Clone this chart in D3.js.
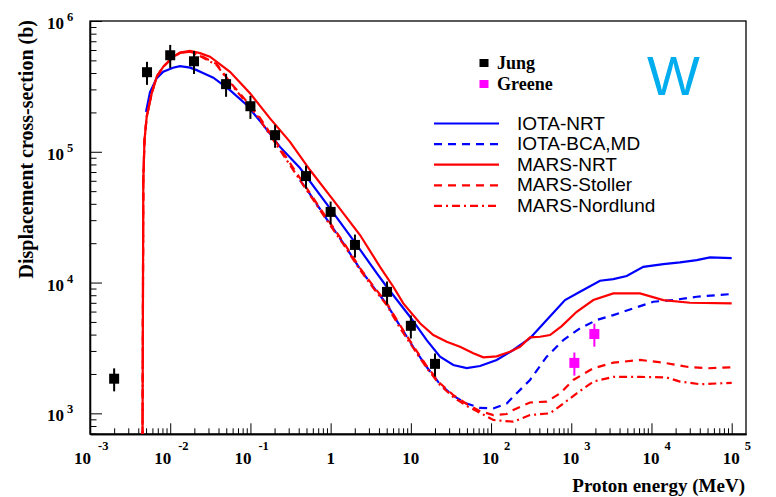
<!DOCTYPE html>
<html>
<head>
<meta charset="utf-8">
<script src="https://cdn.jsdelivr.net/npm/d3@7"></script>
<style>
  html, body { margin: 0; padding: 0; background: #fff; }
  svg { display: block; }
</style>
</head>
<body>
<svg id="chart" width="776" height="497"></svg>
<script>
// ---------------- data ----------------
const jungE      = [0.002, 0.00514, 0.01, 0.0198, 0.0497, 0.1, 0.203, 0.493, 1, 2.01, 5.05, 10, 20];
const jungSigma  = [1840, 4.06e5, 5.47e5, 4.92e5, 3.29e5, 2.23e5, 1.34e5, 6.52e4, 3.47e4, 1.94e4, 8490, 4670, 2390];
const greeneE     = [1093, 1940];
const greeneSigma = [2430, 4040];
const relError = 0.2;

const iotaNrtE = [4.99e-3, 5.60e-3, 6.79e-3, 8.20e-3, 1.083e-2, 1.325e-2, 1.765e-2, 2.14e-2, 2.56e-2, 3.45e-2,
  5.56e-2, 8.99e-2, 0.1447, 0.2338, 0.415, 0.982, 2.113, 3.753, 5.002, 9.761, 15.77, 23.10, 33.83, 49.70, 72.81,
  117.6, 189.4, 305.9, 494.1, 835.6, 1285, 2282, 3344, 4912, 7911, 14050, 22690, 36630, 53660, 1e5];
const iotaNrtSigma = [2.02e5, 2.86e5, 3.66e5, 4.09e5, 4.39e5, 4.52e5, 4.40e5, 4.21e5, 4.00e5, 3.69e5,
  2.96e5, 2.28e5, 1.60e5, 1.09e5, 7.51e4, 3.69e4, 1.94e4, 1.18e4, 9290, 5480, 3630, 2710, 2340, 2220, 2300,
  2560, 3050, 3750, 5170, 7350, 8510, 10320, 10630, 11210, 13200, 13850, 14270, 14860, 15590, 15400];

const iotaBcaE = [0.415, 0.5531, 0.8933, 1.439, 2.324, 3.404, 5.002, 7.325, 10.73, 15.77, 23.10, 33.83, 49.70,
  72.81, 106.7, 156.7, 189.4, 305.9, 494.1, 795.8, 1285, 2076, 3344, 5935, 10540, 18720, 36630, 1e5];
const iotaBcaSigma = [6.08e4, 4.75e4, 3.06e4, 2.00e4, 1.27e4, 9240, 6850, 4650, 3210, 2260, 1670, 1360, 1190,
  1100, 1090, 1190, 1340, 1800, 2710, 3630, 4470, 5170, 5640, 6350, 7130, 7350, 7790, 8170];

const marsNrtE = [4.51e-3, 4.62e-3, 4.78e-3, 5.09e-3, 5.88e-3, 6.79e-3, 8.20e-3, 1.093e-2, 1.325e-2, 1.765e-2,
  2.35e-2, 3.13e-2, 5.56e-2, 9.88e-2, 0.1754, 0.3115, 0.5531, 1.080, 2.324, 4.126, 6.043, 8.054, 13.01, 19.05,
  28.00, 41.02, 60.06, 80.09, 117.6, 172.3, 229.6, 305.9, 407.6, 543.1, 760, 1169, 1883, 3344, 7194, 14050, 30230, 1e5];
const marsNrtSigma = [500, 6.08e4, 1.23e5, 1.85e5, 2.80e5, 3.75e5, 4.47e5, 5.33e5, 5.75e5, 5.92e5,
  5.68e5, 5.33e5, 4.09e5, 2.80e5, 1.80e5, 1.19e5, 7.25e4, 4.27e4, 2.31e4, 1.32e4, 9290, 6930, 4880, 3970,
  3530, 3230, 2880, 2680, 2730, 2960, 3230, 3810, 3850, 3970, 4650, 5980, 7350, 8270, 8270, 7350, 7010, 6930];

const marsStollerE = [4.51e-3, 4.62e-3, 4.78e-3, 5.09e-3, 5.88e-3, 6.79e-3, 8.20e-3, 1.093e-2, 1.325e-2, 1.765e-2,
  2.35e-2, 3.80e-2, 5.56e-2, 0.1198, 0.2338, 0.3424, 0.5531, 0.8933, 1.439, 2.324, 3.404, 5.002, 7.325, 10.73,
  15.77, 23.10, 33.83, 49.70, 72.81, 106.7, 156.7, 189.4, 305.9, 494.1, 723.8, 1060, 1883, 3344, 7194, 14050,
  27500, 48820, 1e5];
const marsStollerSigma = [500, 6.08e4, 1.23e5, 1.85e5, 2.80e5, 3.75e5, 4.47e5, 5.33e5, 5.70e5, 5.83e5,
  5.49e5, 4.68e5, 3.41e5, 1.98e5, 1.07e5, 7.51e4, 4.83e4, 3.11e4, 2.04e4, 1.29e4, 9400, 6970, 4730, 3270,
  2300, 1700, 1380, 1180, 1040, 970, 988, 1060, 1210, 1230, 1420, 1800, 2210, 2440, 2560, 2440,
  2270, 2210, 2250];

const marsNordlundE = [4.51e-3, 4.62e-3, 4.78e-3, 5.09e-3, 5.88e-3, 6.79e-3, 8.20e-3, 1.093e-2, 1.325e-2, 1.765e-2,
  2.35e-2, 3.80e-2, 5.56e-2, 0.1198, 0.2338, 0.3424, 0.5531, 0.8933, 1.439, 2.324, 3.404, 5.002, 7.325, 10.73,
  15.77, 23.10, 33.83, 49.70, 72.81, 106.7, 189.4, 305.9, 543.1, 795.8, 1169, 1883, 3344, 7194, 15480, 22690,
  40270, 1e5];
const marsNordlundSigma = [500, 6.08e4, 1.23e5, 1.85e5, 2.80e5, 3.75e5, 4.47e5, 5.33e5, 5.70e5, 5.83e5,
  5.39e5, 4.60e5, 3.35e5, 1.91e5, 1.03e5, 7.25e4, 4.67e4, 3.00e4, 1.97e4, 1.25e4, 9080, 6730, 4490, 3160,
  2220, 1650, 1330, 1140, 1010, 889, 863, 970, 1000, 1190, 1420, 1750, 1900, 1900, 1880, 1750,
  1670, 1710];

const seriesNames = ["IOTA-NRT", "IOTA-BCA,MD", "MARS-NRT", "MARS-Stoller", "MARS-Nordlund"];
const markerNames = ["Jung", "Greene"];

const xMajorTicks = [1e-3, 1e-2, 1e-1, 1, 10, 1e2, 1e3, 1e4, 1e5];
const xTickBase   = ["10", "10", "10", "1", "10", "10", "10", "10", "10"];
const xTickExp    = ["-3", "-2", "-1", "", "", "2", "3", "4", "5"];
const yMajorTicks = [1e3, 1e4, 1e5, 1e6];
const yTickBase   = ["10", "10", "10", "10"];
const yTickExp    = ["3", "4", "5", "6"];

const xTitle = "Proton energy (MeV)";
const yTitle = "Displacement cross-section (b)";
const elementLabel = "W";

// ---------------- layout ----------------
const L = 90, R = 746, T = 21, B = 434;
const xDomain = [1e-3, 1.508e5];
const yDomain = [695, 1e6];

const svg = d3.select("#chart");
svg.append("rect").attr("width", 776).attr("height", 497).attr("fill", "#fff");

const x = d3.scaleLog().domain(xDomain).range([L, R]);
const y = d3.scaleLog().domain(yDomain).range([B, T]);

const serif = "'Liberation Serif','Times New Roman',Times,serif";
const sans  = "'Liberation Sans',Arial,Helvetica,sans-serif";

svg.append("clipPath").attr("id", "plotclip")
  .append("rect").attr("x", L).attr("y", T).attr("width", R - L).attr("height", B - T);

// minor ticks
const xMinor = [];
for (let d = -3; d <= 5; d++) for (let k = 2; k <= 9; k++) { const v = k * Math.pow(10, d); if (v <= xDomain[1]) xMinor.push(v); }
const yMinor = [];
for (let d = 2; d <= 5; d++) for (let k = 2; k <= 9; k++) { const v = k * Math.pow(10, d); if (v >= yDomain[0] && v <= yDomain[1]) yMinor.push(v); }

const axStyle = g => { g.selectAll("line").attr("stroke", "#000").attr("stroke-width", 1); g.selectAll("path").attr("stroke", "#000").attr("stroke-width", 1.3); g.selectAll("text").remove(); };

svg.append("g").attr("transform", `translate(0,${B})`)
  .call(d3.axisBottom(x).tickValues(xMinor).tickSize(-5.7).tickSizeOuter(0).tickFormat(""))
  .call(axStyle);
svg.append("g").attr("transform", `translate(0,${B})`)
  .call(d3.axisBottom(x).tickValues(xMajorTicks).tickSize(-10.7).tickSizeOuter(0).tickFormat(""))
  .call(axStyle);
svg.append("g").attr("transform", `translate(${L},0)`)
  .call(d3.axisLeft(y).tickValues(yMinor).tickSize(-6.5).tickSizeOuter(0).tickFormat(""))
  .call(axStyle);
svg.append("g").attr("transform", `translate(${L},0)`)
  .call(d3.axisLeft(y).tickValues(yMajorTicks).tickSize(-12).tickSizeOuter(0).tickFormat(""))
  .call(axStyle);

// frame
svg.append("rect").attr("x", L).attr("y", T).attr("width", R - L).attr("height", B - T)
  .attr("fill", "none").attr("stroke", "#000").attr("stroke-width", 1.3);

// x tick labels
xMajorTicks.forEach((v, i) => {
  const px = x(v);
  const neg = xTickExp[i].startsWith("-");
  if (xTickExp[i] === "") {
    svg.append("text").attr("x", px).attr("y", 464).attr("text-anchor", "middle")
      .attr("font-family", serif).attr("font-weight", "bold").attr("font-size", 17).text(xTickBase[i]);
  } else {
    const endX = px + (neg ? 1 : 8);
    svg.append("text").attr("x", endX).attr("y", 464).attr("text-anchor", "end")
      .attr("font-family", serif).attr("font-weight", "bold").attr("font-size", 17).text(xTickBase[i]);
    svg.append("text").attr("x", endX + (neg ? 7 : 5)).attr("y", 450)
      .attr("font-family", serif).attr("font-weight", "bold").attr("font-size", 12.5).text(xTickExp[i]);
  }
});
// y tick labels
yMajorTicks.forEach((v, i) => {
  const py = y(v);
  svg.append("text").attr("x", 64).attr("y", py + 8).attr("text-anchor", "end")
    .attr("font-family", serif).attr("font-weight", "bold").attr("font-size", 17).text(yTickBase[i]);
  svg.append("text").attr("x", 67).attr("y", py)
    .attr("font-family", serif).attr("font-weight", "bold").attr("font-size", 12.5).text(yTickExp[i]);
});

// axis titles
svg.append("text").attr("x", 745).attr("y", 492).attr("text-anchor", "end")
  .attr("font-family", serif).attr("font-weight", "bold").attr("font-size", 19).text(xTitle);
svg.append("text").attr("transform", "translate(33,20) rotate(-90)").attr("text-anchor", "end")
  .attr("font-family", serif).attr("font-weight", "bold").attr("font-size", 20).text(yTitle);

// curves
const line = d3.line().x(d => x(d[0])).y(d => y(d[1]));
const zip = (a, b) => a.map((v, i) => [v, b[i]]);
const curves = [
  { name: seriesNames[0], data: zip(iotaNrtE, iotaNrtSigma), color: "#0000ff", dash: null },
  { name: seriesNames[1], data: zip(iotaBcaE, iotaBcaSigma), color: "#0000ff", dash: "8,6" },
  { name: seriesNames[2], data: zip(marsNrtE, marsNrtSigma), color: "#ff0000", dash: null },
  { name: seriesNames[3], data: zip(marsStollerE, marsStollerSigma), color: "#ff0000", dash: "8,6" },
  { name: seriesNames[4], data: zip(marsNordlundE, marsNordlundSigma), color: "#ff0000", dash: "8,4,2,4" }
];
const plot = svg.append("g").attr("clip-path", "url(#plotclip)");
curves.forEach(c => {
  plot.append("path").datum(c.data).attr("d", line)
    .attr("fill", "none").attr("stroke", c.color).attr("stroke-width", 2.2)
    .attr("stroke-dasharray", c.dash);
});

// data points with error bars
function drawPoints(E, S, color) {
  const pts = zip(E, S);
  const g = plot.append("g");
  g.selectAll("line.err").data(pts).enter().append("line")
    .attr("x1", d => x(d[0])).attr("x2", d => x(d[0]))
    .attr("y1", d => y(d[1] * (1 + relError))).attr("y2", d => y(d[1] * (1 - relError)))
    .attr("stroke", color).attr("stroke-width", 2);
  g.selectAll("rect.pt").data(pts).enter().append("rect")
    .attr("x", d => x(d[0]) - 5).attr("y", d => y(d[1]) - 5)
    .attr("width", 10).attr("height", 10).attr("fill", color);
}
drawPoints(jungE, jungSigma, "#000000");
drawPoints(greeneE, greeneSigma, "#ff00ff");

// marker legend
const markerColors = ["#000000", "#ff00ff"];
markerNames.forEach((n, i) => {
  const yy = 63 + i * 21;
  svg.append("rect").attr("x", 479.5).attr("y", yy - 4).attr("width", 9).attr("height", 8).attr("fill", markerColors[i]);
  svg.append("text").attr("x", 497).attr("y", yy + 6).attr("font-family", serif).attr("font-weight", "bold")
    .attr("font-size", 18).text(n);
});

// line legend
curves.forEach((c, i) => {
  const yy = 123.5 + i * 20.6;
  svg.append("line").attr("x1", 434).attr("x2", 499).attr("y1", yy).attr("y2", yy)
    .attr("stroke", c.color).attr("stroke-width", 2.2).attr("stroke-dasharray", c.dash);
  svg.append("text").attr("x", 517).attr("y", yy + 6).attr("font-family", sans)
    .attr("font-size", 19).attr("fill", "#000").text(c.name);
});

// element label
svg.append("text").attr("x", 647).attr("y", 95).attr("font-family", sans)
  .attr("font-size", 56).attr("fill", "#00aeef").text(elementLabel);
</script>
</body>
</html>
